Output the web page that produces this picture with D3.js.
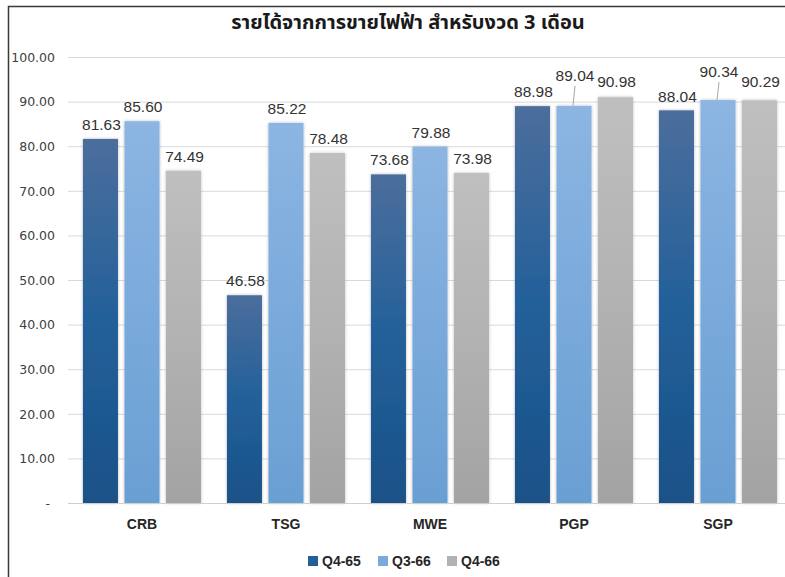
<!DOCTYPE html>
<html>
<head>
<meta charset="utf-8">
<script src="https://cdn.jsdelivr.net/npm/d3@7/dist/d3.min.js"></script>
<style>
  html, body { margin: 0; padding: 0; background: #fff; }
  svg { display: block; }
</style>
</head>
<body>
<svg id="chart" width="785" height="577"></svg>
<script>
// ---- data ----
const categories = ["CRB", "TSG", "MWE", "PGP", "SGP"];
const seriesNames = ["Q4-65", "Q3-66", "Q4-66"];
const q465 = [81.63, 46.58, 73.68, 88.98, 88.04];
const q366 = [85.60, 85.22, 79.88, 89.04, 90.34];
const q466 = [74.49, 78.48, 73.98, 90.98, 90.29];
const yTicks = [0, 10, 20, 30, 40, 50, 60, 70, 80, 90, 100];
const title = "รายได้จากการขายไฟฟ้า สำหรับงวด 3 เดือน";

// label nudges (extra lift in px) for overlapping labels, with leader lines
const labelLift = { "PGP|Q3-66": 16, "SGP|Q3-66": 14, "PGP|Q4-66": 1, "SGP|Q4-66": 4, "SGP|Q4-65": -1 };
const leaderLines = new Set(["PGP|Q3-66", "SGP|Q3-66"]);

const values = [q465, q366, q466];
const rows = categories.map((c, i) => ({ cat: c, vals: seriesNames.map((s, j) => ({ s, v: values[j][i], cat: c })) }));

const svg = d3.select("#chart");
const W = 785, H = 577;

// border
svg.append("path").attr("d", `M8.5,${H} V6.5 H${W}`).attr("fill", "none").attr("stroke", "#3a3a3a").attr("stroke-width", 1.5);

// defs
const defs = svg.append("defs");
const grads = [
  ["#4b6e9c", "#23609a", "#1a5188"],
  ["#8cb5e2", "#7aaadb", "#6a9fd3"],
  ["#bfbfbf", "#b2b2b2", "#a3a3a3"]
];
seriesNames.forEach((s, i) => {
  const g = defs.append("linearGradient").attr("id", "g" + i).attr("x1", 0).attr("y1", 0).attr("x2", 0).attr("y2", 1);
  g.append("stop").attr("offset", "0%").attr("stop-color", grads[i][0]);
  g.append("stop").attr("offset", "50%").attr("stop-color", grads[i][1]);
  g.append("stop").attr("offset", "100%").attr("stop-color", grads[i][2]);
});
const f = defs.append("filter").attr("id", "sh").attr("x", "-20%").attr("y", "-5%").attr("width", "140%").attr("height", "110%");
f.append("feDropShadow").attr("dx", 0).attr("dy", 0).attr("stdDeviation", 1.4).attr("flood-color", "#000").attr("flood-opacity", 0.28);

// scales
const x0 = d3.scaleBand().domain(categories).range([70, 790]).paddingInner(0.18).paddingOuter(0.09);
const x1 = d3.scaleBand().domain(seriesNames).range([0, x0.bandwidth()]).paddingInner(0.157);
const y = d3.scaleLinear().domain([0, 100]).range([503, 57]);

// title
svg.append("text").attr("x", 408).attr("y", 29).attr("text-anchor", "middle")
  .attr("font-family", "'Noto Sans Thai', 'Noto Sans', 'DejaVu Sans', sans-serif")
  .attr("font-weight", "bold").attr("font-size", 20).attr("fill", "#1a1a1a").text(title);

// grid
svg.append("g").selectAll("line").data(yTicks.filter(t => t > 0)).join("line")
  .attr("x1", 68).attr("x2", W).attr("y1", d => y(d) + 0.5).attr("y2", d => y(d) + 0.5)
  .attr("stroke", "#d9d9d9").attr("stroke-width", 1);

// y axis labels
const yAxis = d3.axisLeft(y).tickValues(yTicks).tickSize(0).tickPadding(0)
  .tickFormat(d => d === 0 ? "-" : d3.format(".2f")(d));
const ya = svg.append("g").attr("transform", "translate(55,0)").call(yAxis);
ya.select(".domain").remove();
ya.selectAll("text").attr("font-family", "'DejaVu Sans', sans-serif").attr("font-size", 12.5)
  .attr("fill", "#404040").attr("dy", "0.35em");
ya.selectAll(".tick").filter(d => d === 0).select("text").attr("dx", "-5");

// bars
const groups = svg.append("g").selectAll("g").data(rows).join("g")
  .attr("transform", d => `translate(${x0(d.cat)},0)`);
groups.selectAll("rect").data(d => d.vals).join("rect")
  .attr("x", d => x1(d.s)).attr("width", x1.bandwidth())
  .attr("y", d => y(d.v)).attr("height", d => y(0) - y(d.v))
  .attr("fill", (d, i) => `url(#g${seriesNames.indexOf(d.s)})`)
  .attr("filter", "url(#sh)");

// baseline
svg.append("line").attr("x1", 68).attr("x2", W).attr("y1", y(0) + 0.5).attr("y2", y(0) + 0.5)
  .attr("stroke", "#cfcfcf").attr("stroke-width", 1);

// leader lines
groups.selectAll("line.lead").data(d => d.vals.filter(v => leaderLines.has(v.cat + "|" + v.s))).join("line")
  .attr("class", "lead")
  .attr("x1", d => x1(d.s) + x1.bandwidth() / 2 + 1).attr("x2", d => x1(d.s) + x1.bandwidth() / 2 - 1)
  .attr("y1", d => y(d.v) - 4 - (labelLift[d.cat + "|" + d.s] || 0)).attr("y2", d => y(d.v))
  .attr("stroke", "#a6a6a6").attr("stroke-width", 1);

// value labels
groups.selectAll("text.val").data(d => d.vals).join("text")
  .attr("class", "val")
  .attr("x", d => x1(d.s) + x1.bandwidth() / 2 + 1)
  .attr("y", d => y(d.v) - 9 - (labelLift[d.cat + "|" + d.s] || 0))
  .attr("text-anchor", "middle")
  .attr("font-family", "'Liberation Sans', Arial, sans-serif").attr("font-size", 15.5)
  .attr("fill", "#333").text(d => d3.format(".2f")(d.v));

// category labels
svg.append("g").selectAll("text").data(categories).join("text")
  .attr("x", d => x0(d) + x0.bandwidth() / 2).attr("y", 529).attr("text-anchor", "middle")
  .attr("font-family", "'Liberation Sans', Arial, sans-serif").attr("font-weight", "bold").attr("font-size", 14)
  .attr("fill", "#262626").text(d => d);

// legend
const legX = [308, 378, 447];
const leg = svg.append("g").selectAll("g").data(seriesNames).join("g")
  .attr("transform", (d, i) => `translate(${legX[i]},556)`);
leg.append("rect").attr("width", 10).attr("height", 10).attr("fill", (d, i) => grads[i][1]);
leg.append("text").attr("x", 14).attr("y", 10).attr("font-family", "'Liberation Sans', Arial, sans-serif")
  .attr("font-weight", "bold").attr("font-size", 14).attr("fill", "#262626").text(d => d);
</script>
</body>
</html>
